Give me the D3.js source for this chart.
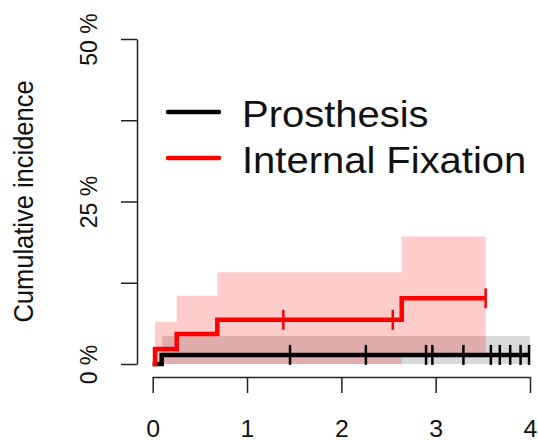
<!DOCTYPE html>
<html><head><meta charset="utf-8">
<script src="https://cdn.jsdelivr.net/npm/d3@7"></script>
<style>body{margin:0;background:#fff}svg{display:block}</style>
</head><body>
<svg id="c" width="538" height="441"></svg>
<script>
// ---- data ----
const groups = ["Prosthesis", "Internal Fixation"];
const lineColors = ["#000000", "#ff0000"];
const bandColors = ["rgba(0,0,0,0.15)", "rgba(255,0,0,0.2)"];

const prosTimes = [0, 0.095];
const prosCIF = [0, 1.4];
const prosEnd = 4.0;
const prosBandTimes = [0.1];
const prosUpper = [4.3];
const prosLower = [0];
const prosCensor = [1.456, 2.26, 2.898, 2.965, 3.294, 3.585, 3.68, 3.79, 3.90, 3.99];

const fixTimes = [0, 0.025, 0.255, 0.685, 2.64];
const fixCIF = [0, 2.3, 4.6, 6.8, 10.1];
const fixEnd = 3.53;
const fixBandTimes = [0.025, 0.255, 0.685, 2.64];
const fixUpper = [6.5, 10.5, 14.1, 19.6];
const fixLower = [0, 0, 0, 1.2];
const fixCensor = [1.385, 2.545, 3.53];

const xTicks = [0, 1, 2, 3, 4];
const yTicks = [0, 12.5, 25, 37.5, 50];
const yTickLabels = ["0 %", "", "25 %", "", "50 %"];
const yTitle = "Cumulative incidence";

// ---- drawing ----
const FONT = "'Liberation Sans', Arial, Helvetica, sans-serif";
const SX = 1.08; // horizontal stretch of the original picture
const svg = d3.select("#c");
const x = d3.scaleLinear().domain([0, 4]).range([152.7, 530]);
const y = d3.scaleLinear().domain([0, 50]).range([364, 39]);

function stepVal(times, vals, t) {
  let v = vals[0];
  for (let i = 0; i < times.length; i++) if (times[i] <= t) v = vals[i];
  return v;
}

const series = [
  {times: prosTimes, cif: prosCIF, end: prosEnd, bt: prosBandTimes, up: prosUpper, lo: prosLower, cens: prosCensor},
  {times: fixTimes, cif: fixCIF, end: fixEnd, bt: fixBandTimes, up: fixUpper, lo: fixLower, cens: fixCensor}
];

const area = d3.area().curve(d3.curveStepAfter)
  .x(d => x(d.t)).y0(d => y(d.lo)).y1(d => y(d.hi));
const line = d3.line().curve(d3.curveStepAfter)
  .x(d => x(d.t)).y(d => y(d.v));

// bands
series.forEach((s, i) => {
  const pts = s.bt.map((t, k) => ({t, lo: s.lo[k], hi: s.up[k]}));
  const last = pts[pts.length - 1];
  pts.push({t: s.end, lo: last.lo, hi: last.hi});
  svg.append("path").attr("d", area(pts)).attr("fill", bandColors[i]).attr("stroke", "none");
});

// lines and censor marks
series.forEach((s, i) => {
  const pts = s.times.map((t, k) => ({t, v: s.cif[k]}));
  pts.push({t: s.end, v: s.cif[s.cif.length - 1]});
  svg.append("path").attr("d", line(pts)).attr("fill", "none")
    .attr("stroke", lineColors[i]).attr("stroke-width", 4.5)
    .attr("stroke-linejoin", "miter");
  svg.append("g").selectAll("line").data(s.cens).join("line")
    .attr("x1", d => x(d)).attr("x2", d => x(d))
    .attr("y1", d => y(stepVal(s.times, s.cif, d)) - 10)
    .attr("y2", d => y(stepVal(s.times, s.cif, d)) + 10)
    .attr("stroke", lineColors[i]).attr("stroke-width", 2.5);
});

// x axis
const gx = svg.append("g").attr("transform", "translate(0,377)")
  .call(d3.axisBottom(x).tickValues(xTicks).tickSize(16).tickSizeOuter(0).tickFormat(d3.format("d")));
gx.select(".domain").attr("stroke", "#222").attr("stroke-width", 1.5);
gx.selectAll(".tick line").attr("stroke", "#222").attr("stroke-width", 1.5);
gx.selectAll(".tick text").attr("font-family", FONT).attr("font-size", 23)
  .attr("fill", "#111").attr("y", 60).attr("dy", null)
  .attr("transform", `scale(${SX},1)`);

// y axis
const gy = svg.append("g").attr("transform", "translate(137,0)")
  .call(d3.axisLeft(y).tickValues(yTicks).tickSize(16).tickSizeOuter(0)
    .tickFormat((d, i) => yTickLabels[i]));
gy.select(".domain").attr("stroke", "#222").attr("stroke-width", 1.5);
gy.selectAll(".tick line").attr("stroke", "#222").attr("stroke-width", 1.5);
gy.selectAll(".tick text").attr("font-family", FONT).attr("font-size", 23)
  .attr("fill", "#111").attr("x", 0).attr("y", 0).attr("dy", null)
  .attr("text-anchor", "middle")
  .attr("transform", `translate(-40,0) scale(${SX},1) rotate(-90)`);

// y title
svg.append("text").text(yTitle)
  .attr("font-family", FONT).attr("font-size", 25.5).attr("fill", "#111")
  .attr("text-anchor", "middle")
  .attr("transform", `translate(33,${(y(0) + y(50)) / 2}) scale(${SX},1) rotate(-90)`);

// legend
const legY = [112, 158];
groups.forEach((g, i) => {
  svg.append("line").attr("x1", 168).attr("x2", 219).attr("y1", legY[i]).attr("y2", legY[i])
    .attr("stroke", lineColors[i]).attr("stroke-width", 4.5).attr("stroke-linecap", "round");
  svg.append("text").text(g)
    .attr("font-family", FONT).attr("font-size", 37).attr("fill", "#111")
    .attr("transform", `translate(242,${legY[i] + 15}) scale(${SX},1)`);
});
</script>
</body></html>
